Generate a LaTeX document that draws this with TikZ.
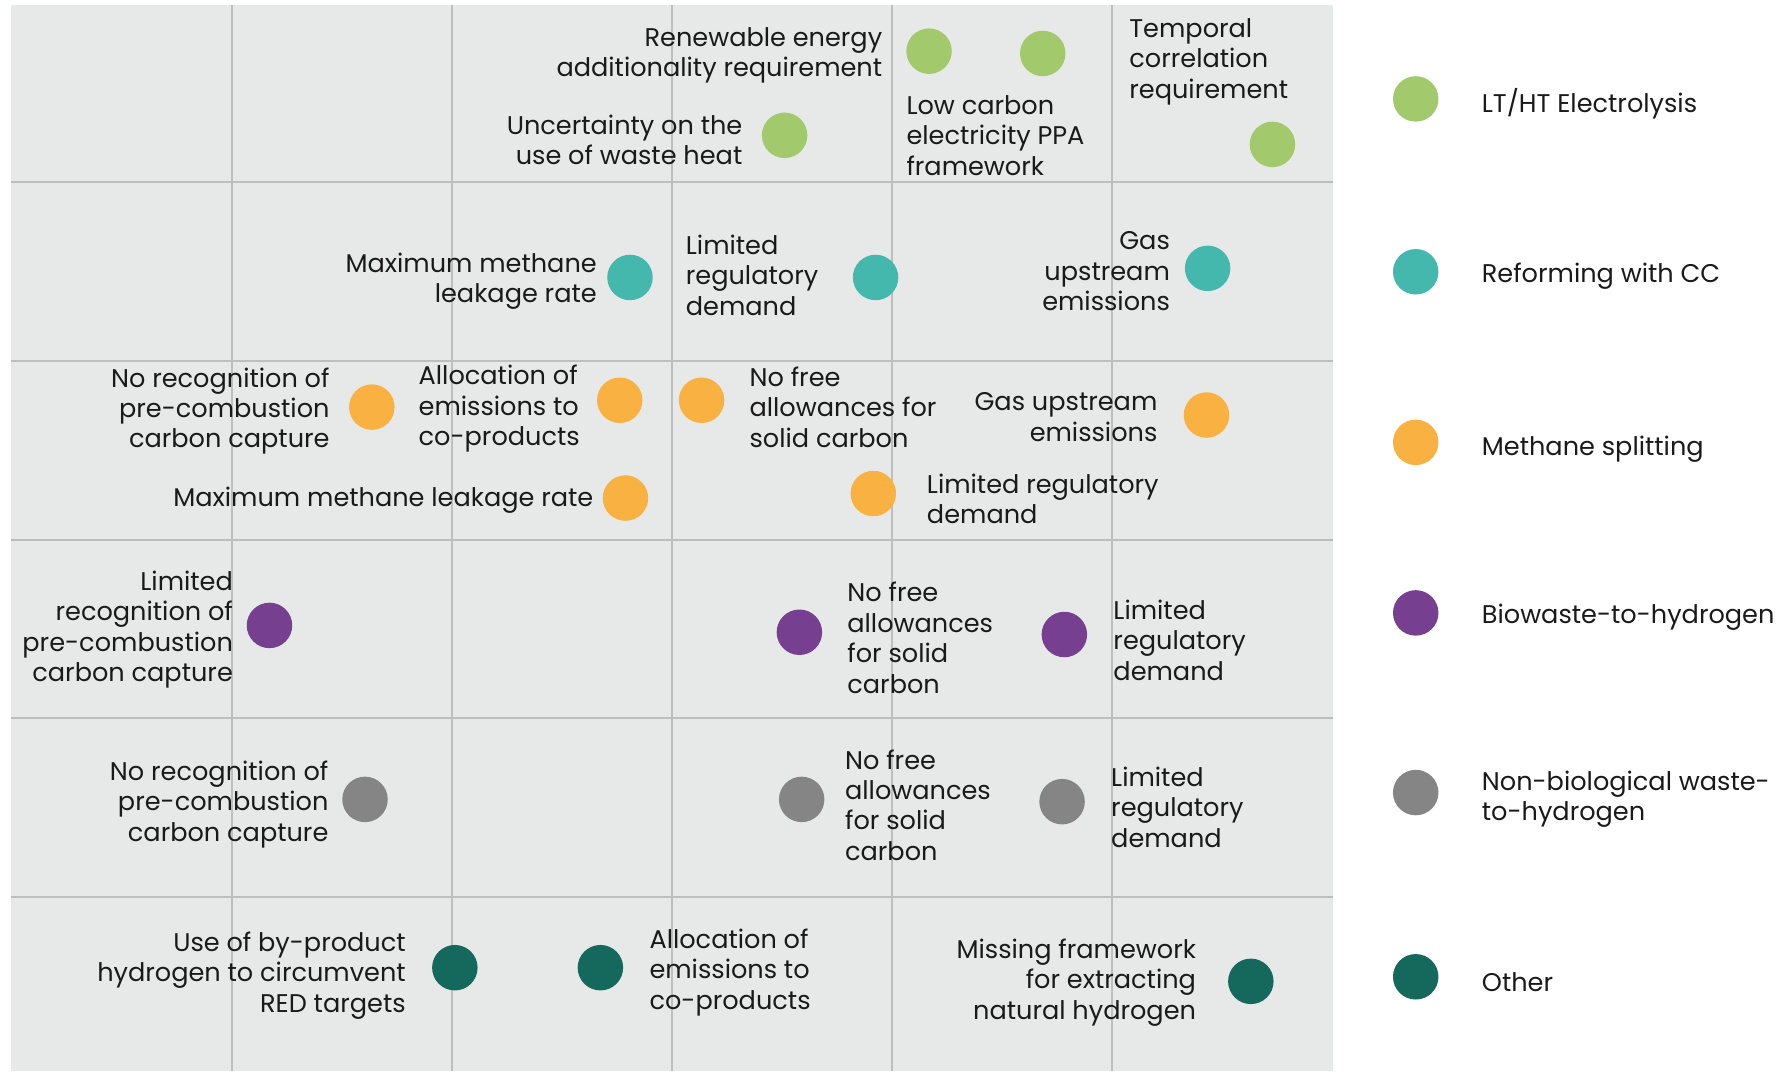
\documentclass[tikz,border=0pt]{standalone}
\usepackage{fontspec}
\setmainfont{Poppins}
\definecolor{cbg}{HTML}{E6E9E8}
\definecolor{cgrid}{HTML}{BDBEBE}
\definecolor{cgreen}{HTML}{A2C96B}
\definecolor{cteal}{HTML}{45B8AE}
\definecolor{corange}{HTML}{F9B241}
\definecolor{cpurple}{HTML}{763F8F}
\definecolor{cgray}{HTML}{858585}
\definecolor{cdark}{HTML}{14695C}
\definecolor{ctext}{HTML}{1A1A1A}
\tikzset{
  dot/.style={circle, minimum size=40pt, inner sep=0pt, draw=none},
  lbl/.style={inner sep=0pt, text=ctext, font=\fontsize{22.5}{26.8}\selectfont},
  lblr/.style={lbl, align=right, anchor=east},
  lbll/.style={lbl, align=left, anchor=west},
  gridline/.style={draw=cgrid, line width=1.8pt}
}
\begin{document}
\begin{tikzpicture}[x=1pt,y=-1pt]
\useasboundingbox (0,0) rectangle (1568,942);
\fill[cbg] (10,4) rectangle (1172,942);
\foreach \gx in {203.7,397.3,591,784.7,978.3}
  \draw[gridline] (\gx,4) -- (\gx,942);
\foreach \gy in {160.2,317.4,474.6,631.8,789}
  \draw[gridline] (10,\gy) -- (1172,\gy);

% Row 1: electrolysis
\node[dot, fill=cgreen] (g1) at (817,45) {};
\node[lblr] (g1t) at (776,48.5) {Renewable energy\\additionality requirement};
\node[dot, fill=cgreen] (g2) at (917,47) {};
\node[lbll] (g2t) at (797,119) {Low carbon\\electricity PPA\\framework};
\node[dot, fill=cgreen] (g3) at (690,119) {};
\node[lblr] (g3t) at (653,123) {Uncertainty on the\\use of waste heat};
\node[dot, fill=cgreen] (g4) at (1119,127) {};
\node[lbll] (g4t) at (993,54) {Temporal\\correlation\\requirement};

% Row 2: reforming
\node[dot, fill=cteal] (t1) at (554,244) {};
\node[lblr] (t1t) at (525,247.5) {Maximum methane\\leakage rate};
\node[dot, fill=cteal] (t2) at (770,244) {};
\node[lbll] (t2t) at (603,242) {Limited\\regulatory\\demand};
\node[dot, fill=cteal] (t3) at (1062,236) {};
\node[lblr] (t3t) at (1029,238.5) {Gas\\upstream\\emissions};

% Row 3: methane splitting
\node[dot, fill=corange] (o1) at (327,358) {};
\node[lblr] (o1t) at (290,361.5) {No recognition of\\pre-combustion\\carbon capture};
\node[dot, fill=corange] (o2) at (545,352) {};
\node[lbll] (o2t) at (368,359.5) {Allocation of\\emissions to\\co-products};
\node[dot, fill=corange] (o3) at (617,352) {};
\node[lbll] (o3t) at (659,358) {No free\\allowances for\\solid carbon};
\node[dot, fill=corange] (o4) at (1061,365) {};
\node[lblr] (o4t) at (1018,367) {Gas upstream\\emissions};
\node[dot, fill=corange] (o5) at (550,438) {};
\node[lblr] (o5t) at (522,440) {Maximum methane leakage rate};
\node[dot, fill=corange] (o6) at (768,434) {};
\node[lbll] (o6t) at (815,438.5) {Limited regulatory\\demand};

% Row 4: biowaste
\node[dot, fill=cpurple] (p1) at (237,550) {};
\node[lblr] (p1t) at (205,553.5) {Limited\\recognition of\\pre-combustion\\carbon capture};
\node[dot, fill=cpurple] (p2) at (703,556) {};
\node[lbll] (p2t) at (745,561) {No free\\allowances\\for solid\\carbon};
\node[dot, fill=cpurple] (p3) at (936,558) {};
\node[lbll] (p3t) at (979,563) {Limited\\regulatory\\demand};

% Row 5: non-biological waste
\node[dot, fill=cgray] (n1) at (321,703) {};
\node[lblr] (n1t) at (289,707.5) {No recognition of\\pre-combustion\\carbon capture};
\node[dot, fill=cgray] (n2) at (705,703) {};
\node[lbll] (n2t) at (743,708) {No free\\allowances\\for solid\\carbon};
\node[dot, fill=cgray] (n3) at (934,705) {};
\node[lbll] (n3t) at (977,710) {Limited\\regulatory\\demand};

% Row 6: other
\node[dot, fill=cdark] (d1) at (400,851) {};
\node[lblr] (d1t) at (357,858) {Use of by-product\\hydrogen to circumvent\\RED targets};
\node[dot, fill=cdark] (d2) at (528,851) {};
\node[lbll] (d2t) at (571,855) {Allocation of\\emissions to\\co-products};
\node[dot, fill=cdark] (d3) at (1100,863) {};
\node[lblr] (d3t) at (1052,864) {Missing framework\\for extracting\\natural hydrogen};

% Legend
\node[dot, fill=cgreen] (l1) at (1245,87) {};
\node[lbll] (l1t) at (1303,91) {LT/HT Electrolysis};
\node[dot, fill=cteal] (l2) at (1245,239) {};
\node[lbll] (l2t) at (1303,243) {Reforming with CC};
\node[dot, fill=corange] (l3) at (1245,389) {};
\node[lbll] (l3t) at (1303,395) {Methane splitting};
\node[dot, fill=cpurple] (l4) at (1245,539) {};
\node[lbll] (l4t) at (1303,543) {Biowaste-to-hydrogen};
\node[dot, fill=cgray] (l5) at (1245,697) {};
\node[lbll] (l5t) at (1303,703) {Non-biological waste-\\to-hydrogen};
\node[dot, fill=cdark] (l6) at (1245,859) {};
\node[lbll] (l6t) at (1303,864) {Other};
\end{tikzpicture}
\end{document}
